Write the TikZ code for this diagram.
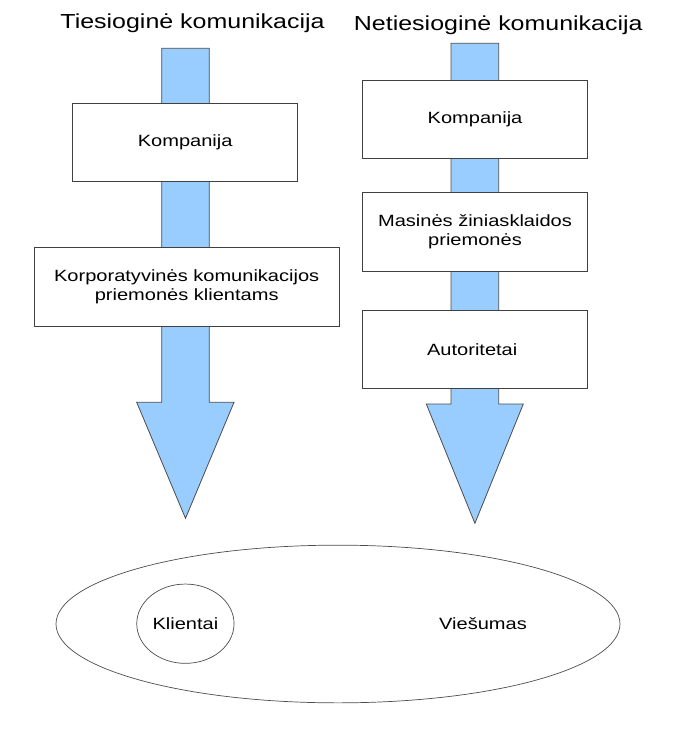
\documentclass[tikz,border=0pt]{standalone}
\usepackage{fontspec}
\setmainfont{Liberation Sans}[FakeStretch=1.23]
\usetikzlibrary{shapes.geometric}
\definecolor{arrowblue}{HTML}{99CCFF}

\begin{document}
\begin{tikzpicture}[x=1pt,y=-1pt,
	every node/.style={font=\fontsize{16.3}{18.5}\selectfont},
	title/.style={anchor=base,font=\fontsize{20.3}{24}\selectfont},
	box/.style={draw=black!75,fill=white,line width=0.8pt,inner sep=0pt,align=center},
	flow/.style={draw=black!70,fill=arrowblue,line width=0.8pt,line join=miter},
	oval/.style={draw=black!70,ellipse,line width=0.7pt,inner sep=0pt}]
	
	\useasboundingbox (0,0) rectangle (678,747);
	
	\node [title] (tiesiog) at (192.5,28.8) {Tiesioginė komunikacija};
	\node [title] (netiesiog) at (498.3,30.5) {Netiesioginė komunikacija};
	
	% arrows first, the boxes lie over them
	\draw [flow] (161.7,48.3) -- (209.3,48.3) -- (209.3,402.3) -- (234,402.3)
		-- (185.5,518.3) -- (136.7,402.3) -- (161.7,402.3) -- cycle;
	\draw [flow] (451,43.3) -- (498.7,43.3) -- (498.7,404) -- (523.3,404)
		-- (474.9,523.3) -- (426.3,404) -- (451,404) -- cycle;
	
	\node [box,minimum width=225pt,minimum height=78.4pt] (kompanija) at (185.2,142.5) {Kompanija};
	\node [box,minimum width=305.3pt,minimum height=78.7pt] (priemones) at (186.7,286.7)
		{Korporatyvinės komunikacijos\\priemonės klientams};
	
	\foreach \name/\y/\txt in {
		kompanija2/119.3/Kompanija,
		media/231.7/{Masinės žiniasklaidos\\priemonės},
		autoritetai/349.5/Autoritetai
	} {
		\node [box,minimum width=225.4pt,minimum height=78.5pt] (\name) at (475,\y) {\txt};
	}
	
	\node [oval,minimum width=564pt,minimum height=157.7pt] (visuomene) at (338,624) {};
	\node [oval,minimum width=97.3pt,minimum height=79.3pt] (klientai) at (185.4,623.7) {Klientai};
	\node (viesumas) at (483,624) {Viešumas};
	
\end{tikzpicture}
\end{document}
